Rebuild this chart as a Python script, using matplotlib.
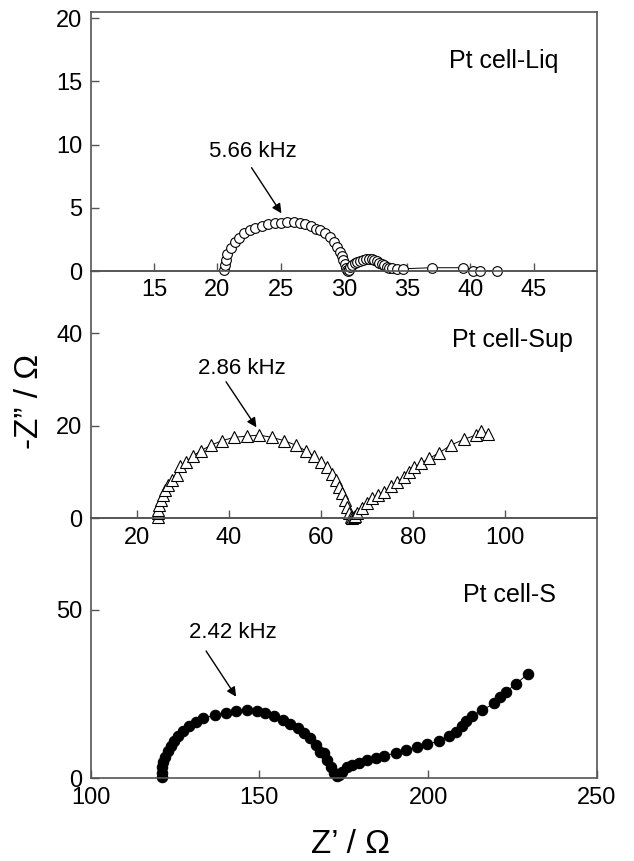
import matplotlib
matplotlib.use("Agg")
import matplotlib.pyplot as plt

plt.rcParams['font.family'] = ['Liberation Sans', 'DejaVu Sans']

# Pt cell-Liq (open circles)
liq_x = [20.52, 20.6, 20.68, 20.8, 21.07, 21.38, 21.73, 22.12, 22.57, 23.02, 23.5, 24.0,
         24.55, 25.07, 25.55, 26.05, 26.52, 26.97, 27.44, 27.84, 28.12, 28.52, 28.91, 29.23,
         29.49, 29.7, 29.86, 29.97, 30.07, 30.17, 30.22, 30.3, 30.4, 30.49, 30.68, 30.88,
         31.08, 31.28, 31.5, 31.75, 32.0, 32.2, 32.4, 32.6, 32.8, 32.99, 33.2, 33.39, 33.6,
         33.78, 34.17, 34.65, 36.94, 39.44, 40.23, 40.75, 42.07]
liq_y = [0.08, 0.47, 0.87, 1.34, 1.79, 2.27, 2.63, 2.98, 3.24, 3.42, 3.58, 3.69,
         3.77, 3.82, 3.87, 3.87, 3.82, 3.72, 3.53, 3.3, 3.24, 2.98, 2.66, 2.32,
         1.92, 1.53, 1.19, 0.87, 0.53, 0.26, 0.05, 0.02, 0.12, 0.34, 0.48, 0.61,
         0.72, 0.81, 0.9, 0.95, 0.95, 0.92, 0.86, 0.77, 0.66, 0.55, 0.44, 0.34, 0.27,
         0.21, 0.18, 0.18, 0.26, 0.26, 0.03, 0.03, 0.0]

# Pt cell-Sup (open triangles)
sup_x = [24.73, 24.73, 24.73, 24.88, 25.32, 25.69, 26.19, 26.91, 27.65, 28.74, 29.46,
         30.76, 32.22, 33.96, 36.14, 38.54, 41.07, 43.99, 46.67, 49.43, 52.11, 54.51,
         56.75, 58.5, 59.96, 61.42, 62.51, 63.23, 63.95, 64.68, 65.25, 65.77, 66.12,
         66.5, 66.8, 67.2, 67.5, 67.95, 69.04, 70.13, 71.22, 72.44, 73.75, 75.21, 76.52,
         77.97, 79.2, 80.28, 81.74, 83.55, 85.73, 88.28, 91.05, 93.73, 94.82, 96.28]
sup_y = [0.2, 1.15, 1.8, 2.88, 3.96, 5.04, 6.12, 7.2, 8.28, 9.43, 11.3,
         12.24, 13.47, 14.62, 15.85, 16.78, 17.51, 17.8, 18.0, 17.51, 16.78, 15.85,
         14.62, 13.47, 12.24, 11.03, 9.58, 8.28, 6.83, 5.41, 3.96, 2.51, 1.08,
         0.35, 0.1, 0.3, 0.6, 1.08, 2.16, 3.24, 4.32, 5.04, 5.75, 6.98, 7.91,
         8.86, 10.08, 11.03, 11.89, 12.97, 14.18, 15.85, 17.08, 18.01, 18.94, 18.16]

# Pt cell-S (filled circles)
s_x = [121.07, 121.07, 121.25, 121.54, 122.05, 122.85, 123.74, 124.72, 126.0, 127.48,
       129.26, 131.25, 133.41, 136.88, 140.15, 143.12, 146.29, 149.26, 151.72, 154.39,
       156.97, 159.14, 161.42, 163.3, 165.07, 166.85, 168.04, 169.14, 170.12, 171.1,
       172.11, 172.88, 173.59, 174.57, 176.05, 177.54, 179.53, 181.99, 184.45, 186.94,
       190.39, 193.35, 196.82, 199.79, 203.26, 206.23, 208.19, 209.88, 211.16, 212.85,
       215.91, 219.59, 221.36, 223.03, 225.99, 229.47]
s_y = [0.3, 1.66, 3.27, 4.75, 6.42, 8.1, 9.59, 11.17, 12.65, 14.14,
       15.53, 16.72, 17.82, 18.8, 19.48, 19.99, 20.29, 19.99, 19.48, 18.59,
       17.32, 16.13, 14.85, 13.36, 11.88, 9.89, 7.9, 7.6, 5.44, 3.45,
       1.66, 0.68, 0.98, 1.96, 3.27, 3.95, 4.63, 5.44, 6.12, 6.62,
       7.6, 8.4, 9.39, 10.19, 11.08, 12.56, 13.84, 15.53, 17.11, 18.5,
       20.2, 22.28, 24.24, 25.72, 28.0, 30.98]

labels = ['Pt cell-Liq', 'Pt cell-Sup', 'Pt cell-S']
freqs = ['5.66 kHz', '2.86 kHz', '2.42 kHz']

spine_col = '#555555'

fig = plt.figure(figsize=(6.34, 8.61), dpi=100)
gs = fig.add_gridspec(3, 1, height_ratios=[259.3, 247.3, 260], hspace=0,
                      left=0.143, right=0.9416, top=0.9864, bottom=0.096)
axes = [fig.add_subplot(gs[i]) for i in range(3)]

for i, ax in enumerate(axes):
    ax.patch.set_visible(False)
    ax.set_zorder(3 - i)
    for sp in ax.spines.values():
        sp.set_color(spine_col)
        sp.set_linewidth(1.2)
    ax.tick_params(direction='in', length=6, width=1, color=spine_col,
                   labelsize=17, pad=6)

arrow = dict(arrowstyle='-|>', color='black', lw=1, mutation_scale=14,
             shrinkA=0, shrinkB=0)

# top panel
ax = axes[0]
ax.plot(liq_x, liq_y, '-o', color='black', lw=0.7, ms=7, mew=0.8,
        mfc='white', mec='black', clip_on=False)
ax.set_xlim(10, 50)
ax.set_ylim(0, 20.5)
ax.set_xticks([15, 20, 25, 30, 35, 40, 45])
ax.set_yticks([0, 5, 10, 15, 20])
ax.text(0.707, 0.782, labels[0], transform=ax.transAxes, fontsize=18, va='baseline')
ax.text(22.85, 9.43, freqs[0], fontsize=16, ha='center', va='center')
ax.annotate('', xy=(25.07, 4.56), xytext=(22.71, 8.17), arrowprops=arrow)

# middle panel
ax = axes[1]
ax.plot(sup_x, sup_y, '-^', color='black', lw=0.7, ms=8.5, mew=0.8,
        mfc='white', mec='black', clip_on=False)
ax.set_xlim(10, 120)
ax.set_ylim(0, 53.5)
ax.set_xticks([20, 40, 60, 80, 100])
ax.set_yticks([0, 20, 40])
ax.text(0.714, 0.694, labels[1], transform=ax.transAxes, fontsize=18, va='baseline')
ax.text(42.9, 32.43, freqs[1], fontsize=16, ha='center', va='center')
ax.annotate('', xy=(46.01, 19.68), xytext=(39.41, 29.54), arrowprops=arrow)

# bottom panel
ax = axes[2]
ax.plot(s_x, s_y, '-o', color='black', lw=0.7, ms=7.5, mew=0.8,
        mfc='black', mec='black', clip_on=False)
ax.set_xlim(100, 250)
ax.set_ylim(0, 77.2)
ax.set_xticks([100, 150, 200, 250])
ax.set_yticks([0, 50])
ax.text(0.735, 0.679, labels[2], transform=ax.transAxes, fontsize=18, va='baseline')
ax.text(142.0, 43.24, freqs[2], fontsize=16, ha='center', va='center')
ax.annotate('', xy=(143.1, 24.24), xytext=(134.2, 37.8), arrowprops=arrow)

fig.text(0.047, 0.5335, '-Z\u201d / \u03a9', rotation=90, fontsize=24,
         ha='center', va='center')
fig.text(0.5536, 0.0093, 'Z\u2019 / \u03a9', fontsize=24, ha='center', va='baseline')

fig.savefig('out.png', dpi=100)
